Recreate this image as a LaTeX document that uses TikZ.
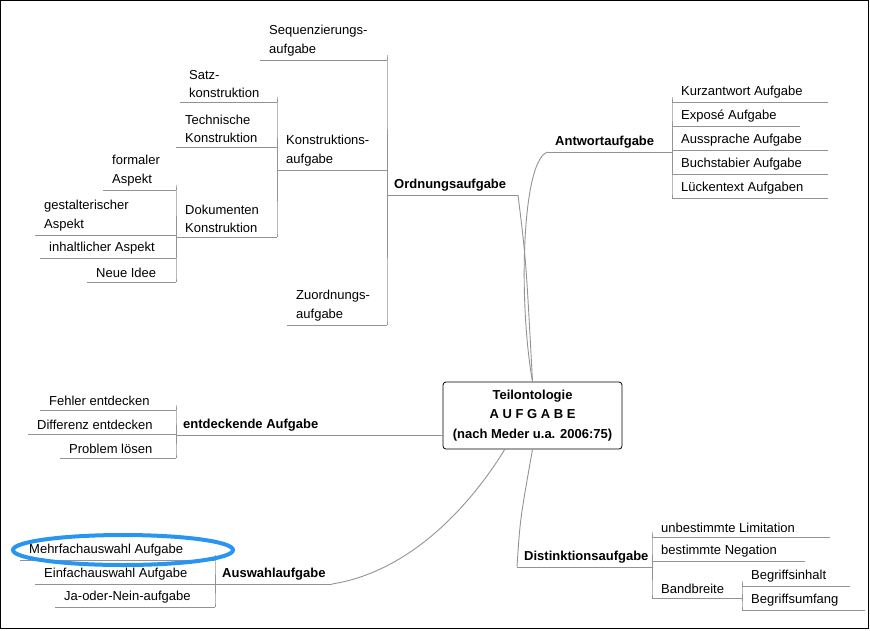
\documentclass[tikz,border=0pt]{standalone}
\usepackage{fontspec}
\setmainfont{Liberation Sans}
\usetikzlibrary{calc}

\tikzset{
  branch/.style={color=gray!85,line width=0.9pt},
  leaftext/.style={inner sep=1pt,align=left,font=\fontsize{13pt}{18.5pt}\selectfont},
  maintext/.style={leaftext,font=\fontsize{13pt}{18.5pt}\selectfont\bfseries},
}
% leaf: name, x left, x right, y of underline, text
\newcommand\leaf[5]{
  \coordinate (#1-l) at (#2,#4);
  \coordinate (#1-r) at (#3,#4);
  \draw[branch] (#1-l) -- (#1-r);
  \node[leaftext,anchor=south west] (#1) at ($(#1-l)+(8,-3)$) {#5};
}
\newcommand\mainleaf[5]{
  \coordinate (#1-l) at (#2,#4);
  \coordinate (#1-r) at (#3,#4);
  \draw[branch] (#1-l) -- (#1-r);
  \node[maintext,anchor=south west] (#1) at ($(#1-l)+(6,-3)$) {#5};
}

\begin{document}
\begin{tikzpicture}[x=1pt,y=-1pt]
		\useasboundingbox (0,0) rectangle (870,630);
		\draw[black] (0.5,0.5) rectangle (868.5,628.5);

		% The centre
		\node[draw,thick,rounded corners=3pt,minimum width=179pt,minimum height=67pt,align=center,
		  font=\fontsize{13pt}{19.5pt}\selectfont\bfseries] (center) at (532.5,415.5)
		  {Teilontologie\\A U F G A B E\\(nach Meder u.a. 2006:75)};

		% Ordnungsaufgabe
		\mainleaf{ord}{387}{518}{195}{Ordnungsaufgabe}
		\leaf{seq}{260}{387}{60}{Sequenzierungs-\\aufgabe}
		\leaf{kon}{277}{387}{170}{Konstruktions-\\aufgabe}
		\leaf{zuo}{287}{387}{325}{Zuordnungs-\\aufgabe}
		\leaf{satz}{180}{277}{102}{Satz-\\konstruktion}
		\leaf{tech}{176}{277}{147}{Technische\\Konstruktion}
		\leaf{dok}{176}{277}{237}{Dokumenten\\Konstruktion}
		\leaf{form}{103}{176}{190}{formaler\\Aspekt}
		\leaf{gest}{35}{176}{235}{gestalterischer\\Aspekt}
		\leaf{inh}{40}{176}{258}{inhaltlicher Aspekt}
		\leaf{neu}{87}{176}{282}{Neue Idee}
		\foreach \c in {seq,kon,zuo}
			\draw[branch,rounded corners=5pt] (ord-l) |- (\c-r);
		\foreach \c in {satz,tech,dok}
			\draw[branch,rounded corners=5pt] (kon-l) |- (\c-r);
		\foreach \c in {form,gest,inh,neu}
			\draw[branch,rounded corners=5pt] (dok-l) |- (\c-r);
		\draw[branch] (ord-r) .. controls (526,260) .. (center.north);

		% Antwortaufgabe
		\mainleaf{ant}{548}{672}{152}{Antwortaufgabe}
		\leaf{kurz}{672}{828}{102}{Kurzantwort Aufgabe}
		\leaf{expo}{672}{800}{126}{Exposé Aufgabe}
		\leaf{aus}{672}{828}{150}{Aussprache Aufgabe}
		\leaf{buch}{672}{828}{174}{Buchstabier Aufgabe}
		\leaf{luck}{672}{828}{198}{Lückentext Aufgaben}
		\foreach \c in {kurz,expo,aus,buch,luck}
			\draw[branch,rounded corners=5pt] (ant-r) |- (\c-l);
		\draw[branch] (ant-l) .. controls (522,158) and (518,300) .. (center.north);

		% entdeckende Aufgabe
		\mainleaf{ent}{176}{443}{435}{entdeckende Aufgabe}
		\leaf{fehl}{40}{176}{410}{Fehler entdecken}
		\leaf{diff}{28}{176}{434}{Differenz entdecken}
		\leaf{prob}{60}{176}{458}{Problem lösen}
		\foreach \c in {fehl,diff,prob}
			\draw[branch,rounded corners=5pt] (ent-l) |- (\c-r);

		% Auswahlaufgabe
		\mainleaf{wahl}{215}{332}{584}{Auswahlaufgabe}
		\leaf{mehr}{20}{215}{560}{Mehrfachauswahl Aufgabe}
		\leaf{einf}{35}{215}{584}{Einfachauswahl Aufgabe}
		\leaf{ja}{55}{215}{607}{Ja-oder-Nein-aufgabe}
		\foreach \c in {mehr,einf,ja}
			\draw[branch,rounded corners=5pt] (wahl-l) |- (\c-r);
		\draw[branch] (wahl-r) .. controls (420,570) and (480,490) .. (505,449);
		\draw[color={rgb,255:red,40;green,150;blue,240},line width=4pt] (123,550) ellipse (110 and 15);

		% Distinktionsaufgabe
		\mainleaf{dis}{517}{652}{567}{Distinktionsaufgabe}
		\leaf{unb}{652}{830}{537}{unbestimmte Limitation}
		\leaf{neg}{652}{805}{561}{bestimmte Negation}
		\leaf{band}{652}{742}{598}{Bandbreite}
		\leaf{binh}{742}{850}{586}{Begriffsinhalt}
		\leaf{bumf}{742}{865}{610}{Begriffsumfang}
		\foreach \c in {unb,neg,band}
			\draw[branch,rounded corners=5pt] (dis-r) |- (\c-l);
		\foreach \c in {binh,bumf}
			\draw[branch,rounded corners=5pt] (band-r) |- (\c-l);
		\draw[branch] (dis-l) .. controls (520,520) .. (center.south);
\end{tikzpicture}
\end{document}
